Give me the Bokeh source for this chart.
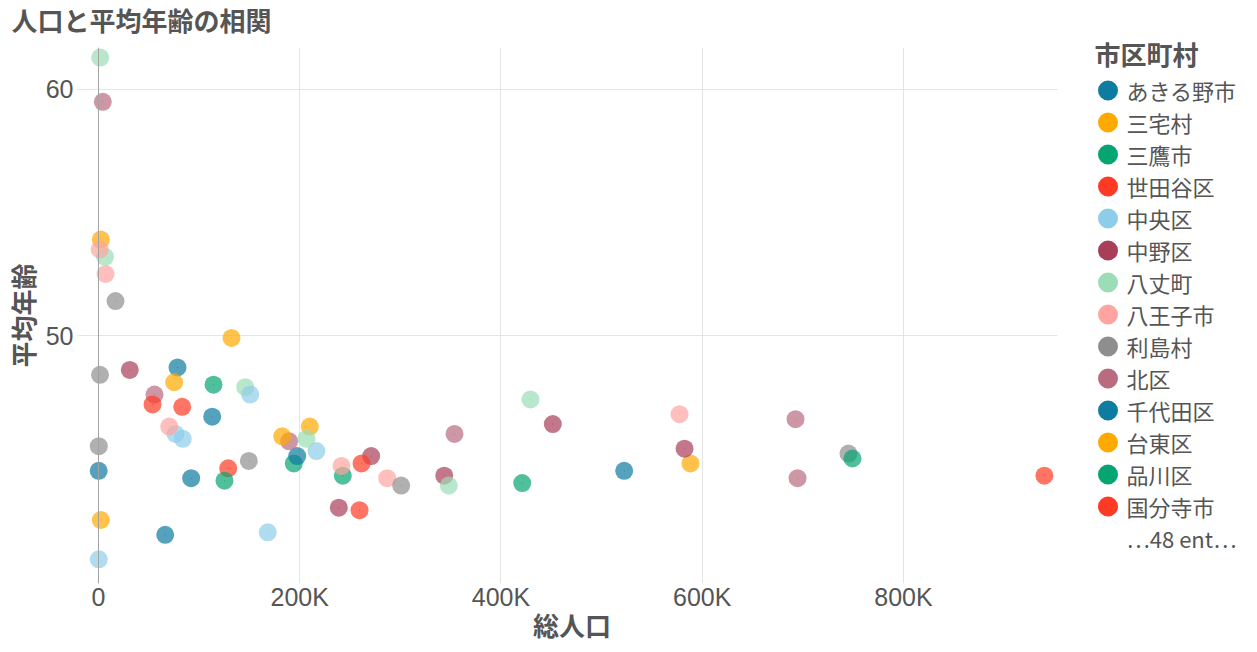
from bokeh.plotting import figure
from bokeh.models import (ColumnDataSource, Legend, LegendItem, Span,
                          FixedTicker, Range1d, LinearAxis)
from bokeh.embed import file_html
from bokeh.resources import INLINE

# ---- data (sorted by name, as in the legend) ----
names = ["あきる野市", "三宅村", "三鷹市", "世田谷区", "中央区", "中野区", "八丈町", "八王子市", "利島村", "北区",
         "千代田区", "台東区", "品川区", "国分寺市", "国立市", "墨田区", "多摩市", "大島町", "大田区", "奥多摩町",
         "小平市", "小笠原村", "小金井市", "府中市", "御蔵島村", "文京区", "新宿区", "新島村", "日の出町", "日野市",
         "昭島市", "杉並区", "東久留米市", "東大和市", "東村山市", "板橋区", "檜原村", "武蔵村山市", "武蔵野市", "江戸川区",
         "江東区", "清瀬市", "渋谷区", "港区", "狛江市", "瑞穂町", "町田市", "目黒区", "神津島村", "福生市",
         "稲城市", "立川市", "練馬区", "羽村市", "荒川区", "葛飾区", "西東京市", "調布市", "豊島区", "足立区",
         "青ヶ島村", "青梅市"]

population = [78500, 2300, 194100, 940000, 168200, 343600, 6500, 577400, 300, 353800,
              66300, 210000, 421100, 128900, 76500, 271000, 145800, 7000, 745300, 4300,
              197500, 2300, 125200, 261400, 300, 238800, 348100, 1200, 16900, 189500,
              113000, 588300, 114300, 83200, 150800, 582400, 1700, 70300, 149400, 694700,
              522400, 75200, 242800, 259400, 83800, 31100, 429300, 286900, 1500, 55700,
              92100, 182600, 749300, 53700, 216600, 451500, 206700, 241500, 300800, 692700,
              200, 132200]

avg_age = [48.7, 53.9, 44.8, 44.3, 42.0, 44.3, 53.2, 46.8, 45.5, 46.0,
           41.9, 46.3, 44.0, 44.6, 46.0, 45.1, 47.9, 52.5, 45.2, 59.5,
           45.1, 42.5, 44.1, 44.8, 40.9, 43.0, 43.9, 53.5, 51.4, 45.7,
           46.7, 44.8, 48.0, 47.1, 47.6, 45.4, 61.3, 46.3, 44.9, 44.2,
           44.5, 48.1, 44.3, 42.9, 45.8, 48.6, 47.4, 44.2, 48.4, 47.6,
           44.2, 45.9, 45.0, 47.2, 45.3, 46.4, 45.8, 44.7, 43.9, 46.6,
           44.5, 49.9]

palette = ["#0e7ba1", "#ffaa00", "#04a571", "#ff3a24", "#8ecdea",
           "#a83f58", "#9bddb7", "#ffa4a0", "#8e8e8e", "#b96b7f"]

x_ticks = [0, 200000, 400000, 600000, 800000]
x_tick_labels = ["0", "200K", "400K", "600K", "800K"]
y_ticks = [50, 60]

title_text = "人口と平均年齢の相関"
x_title = "総人口"
y_title = "平均年齢"
legend_title = "市区町村"
legend_shown = 14

order = sorted(names)
colors = [palette[order.index(n) % len(palette)] for n in names]

TXT = "#555555"
GRID = "#e4e4e4"
JP = "Noto Sans CJK JP"

src = ColumnDataSource(dict(name=names, pop=population, age=avg_age, color=colors))

p = figure(frame_width=971, frame_height=536,
           x_range=Range1d(-11925, 953043), y_range=Range1d(39.919, 61.707),
           output_backend="svg", toolbar_location=None,
           min_border_left=86, min_border_right=198, min_border_top=47, min_border_bottom=66,
           outline_line_color=None, background_fill_color="white", border_fill_color="white")

xa = p.below[0]
ya = p.left[0]

# title
p.title.text = title_text
p.title.align = "left"
p.title.offset = -75
p.title.standoff = 0
p.title.vertical_align = "top"
p.title.text_font = JP
p.title.text_font_size = "26px"
p.title.text_font_style = "bold"
p.title.text_color = TXT

# blank spacer between title and plot area (white tick on white, no labels)
spacer = LinearAxis(ticker=FixedTicker(ticks=[0]), major_tick_out=8, major_tick_in=0,
                    minor_tick_out=0, minor_tick_in=0, major_label_standoff=0,
                    axis_line_color=None, major_tick_line_color="white",
                    minor_tick_line_color=None, major_label_text_color=None,
                    major_label_text_font_size="1px", major_label_overrides={0: ""})
p.add_layout(spacer, "above")

# axes
xa.ticker = FixedTicker(ticks=x_ticks)
xa.major_label_overrides = dict(zip(x_ticks, x_tick_labels))
xa.axis_line_color = None
xa.major_tick_line_color = None
xa.minor_tick_line_color = None
xa.major_tick_out = 0
xa.major_tick_in = 0
xa.major_label_standoff = -1
xa.major_label_text_font = "Liberation Sans"
xa.major_label_text_font_size = "25px"
xa.major_label_text_color = TXT
xa.axis_label = x_title
xa.axis_label_text_font = JP
xa.axis_label_text_font_style = "bold"
xa.axis_label_text_font_size = "26px"
xa.axis_label_text_color = TXT
xa.axis_label_standoff = -8

ya.ticker = FixedTicker(ticks=y_ticks)
ya.axis_line_color = None
ya.major_tick_line_color = GRID
ya.minor_tick_line_color = None
ya.major_tick_out = 9
ya.major_tick_in = 0
ya.major_label_standoff = 4
ya.major_label_text_font = "Liberation Sans"
ya.major_label_text_font_size = "25px"
ya.major_label_text_color = TXT
ya.axis_label = y_title
ya.axis_label_text_font = JP
ya.axis_label_text_font_style = "bold"
ya.axis_label_text_font_size = "26px"
ya.axis_label_text_color = TXT
ya.axis_label_standoff = 2

p.xgrid.ticker = FixedTicker(ticks=x_ticks)
p.ygrid.ticker = FixedTicker(ticks=y_ticks)
p.xgrid.grid_line_color = GRID
p.ygrid.grid_line_color = GRID

p.add_layout(Span(location=0, dimension="height", line_color="#a2a2a2", line_width=1))

# opaque 1px copy used only for the legend swatches (drawn underneath)
rl = p.ellipse("pop", "age", source=src, width=1, height=1, width_units="screen",
               height_units="screen", fill_color="color", fill_alpha=1.0, line_color=None)
# points
r = p.scatter("pop", "age", source=src, size=18, fill_color="color", fill_alpha=0.7,
              line_color=None)

items = [LegendItem(label=names[i], renderers=[rl], index=i) for i in range(legend_shown)]
items.append(LegendItem(label=f"…{len(names) - legend_shown} ent…", renderers=[]))

legend = Legend(items=items, location=(37.5, 29.5), orientation="vertical",
                glyph_width=25, glyph_height=32, label_height=32, spacing=0, label_standoff=7,
                padding=0, margin=0, border_line_color=None, background_fill_alpha=0,
                label_text_font=JP, label_text_font_size="22px", label_text_color=TXT,
                title=legend_title, title_standoff=2,
                title_text_font=JP, title_text_font_size="26px",
                title_text_font_style="bold", title_text_color=TXT)
p.add_layout(legend, "right")

open("out.html", "w").write(file_html(p, INLINE, "chart"))
